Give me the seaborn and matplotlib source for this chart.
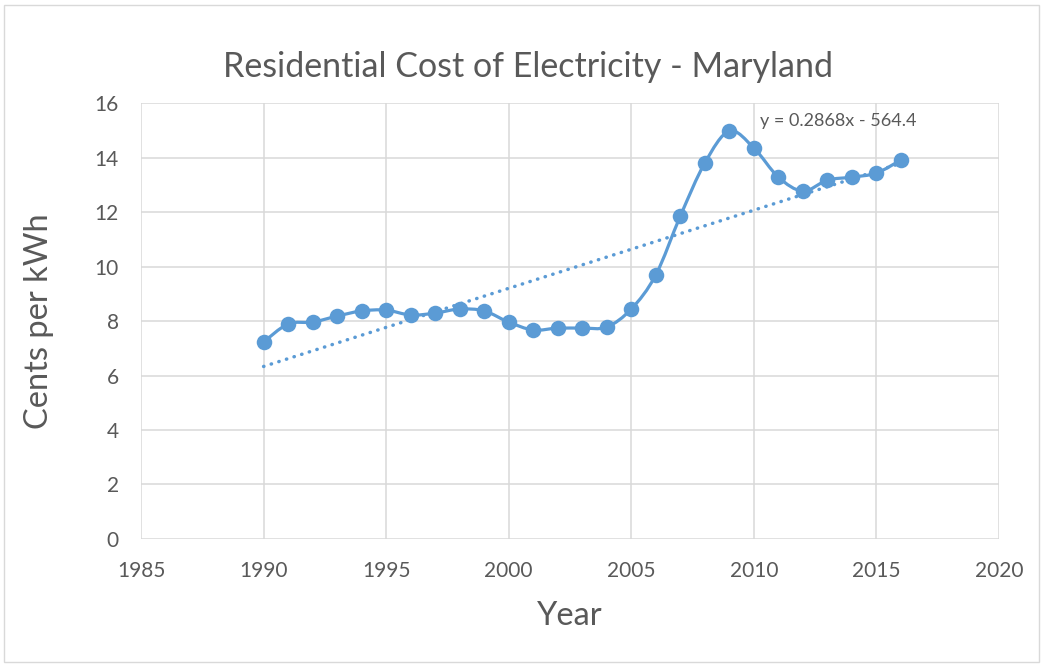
import numpy as np
import seaborn as sns
import matplotlib.pyplot as plt
from matplotlib.path import Path
from matplotlib.patches import PathPatch, Rectangle

years = [1990, 1991, 1992, 1993, 1994, 1995, 1996, 1997, 1998, 1999,
         2000, 2001, 2002, 2003, 2004, 2005, 2006, 2007, 2008, 2009,
         2010, 2011, 2012, 2013, 2014, 2015, 2016]
cents = [7.23, 7.89, 7.96, 8.18, 8.37, 8.40, 8.22, 8.29, 8.44, 8.37,
         7.96, 7.67, 7.74, 7.74, 7.78, 8.44, 9.69, 11.85, 13.80, 14.97,
         14.35, 13.28, 12.77, 13.17, 13.28, 13.43, 13.91]
trend_slope = 0.2868
trend_icept = -564.4
trend_label = "y = 0.2868x - 564.4"
x_ticks = [1985, 1990, 1995, 2000, 2005, 2010, 2015, 2020]
y_ticks = [0, 2, 4, 6, 8, 10, 12, 14, 16]

blue = "#5B9BD5"
grey_txt = "#595959"
grid_c = "#D9D9D9"

sns.set_theme(style="white")
plt.rcParams['font.family'] = ['Lato', 'DejaVu Sans']

fig = plt.figure(figsize=(10.43, 6.66), dpi=100)
ax = fig.add_axes([0.1352, 0.1907, 0.8226, 0.6546])

# excel-like smoothed line: bezier segments through the points
pts = np.column_stack([years, cents]).astype(float)
verts = [pts[0]]
codes = [Path.MOVETO]
for i in range(len(pts) - 1):
    p0 = pts[i - 1] if i > 0 else pts[i]
    p1 = pts[i]
    p2 = pts[i + 1]
    p3 = pts[i + 2] if i + 2 < len(pts) else pts[i + 1]
    verts += [p1 + (p2 - p0) / 6, p2 - (p3 - p1) / 6, p2]
    codes += [Path.CURVE4] * 3
ax.add_patch(PathPatch(Path(verts, codes), fill=False, edgecolor=blue,
                       lw=2.3, capstyle="round", joinstyle="round", zorder=3))

sns.scatterplot(x=years, y=cents, color=blue, s=125, edgecolor=blue,
                linewidth=0, ax=ax, zorder=4)

tx = np.array([years[0], years[-1]])
sns.lineplot(x=tx, y=trend_slope * tx + trend_icept, color=blue, lw=2.5,
             ax=ax, zorder=2, dashes=False)
ax.lines[-1].set_linestyle((0, (0.1, 2.2)))
ax.lines[-1].set_dash_capstyle("round")

ax.text(2010.25, 15.35, trend_label, fontsize=13, color=grey_txt,
        ha="left", va="center", zorder=5)

ax.set_xlim(1985, 2020)
ax.set_ylim(0, 16)
ax.set_xticks(x_ticks)
ax.set_yticks(y_ticks)
ax.grid(True, color=grid_c, lw=1.1)
ax.set_axisbelow(True)
for s in ax.spines.values():
    s.set_visible(False)
ax.tick_params(axis="both", length=0, labelsize=15, colors=grey_txt)
ax.tick_params(axis="x", pad=16)
ax.tick_params(axis="y", pad=16)

ax.set_title("Residential Cost of Electricity - Maryland", fontsize=24.5,
             color=grey_txt, pad=19, x=0.451)
ax.set_xlabel("Year", fontsize=23.5, color=grey_txt, labelpad=14)
ax.set_ylabel("Cents per kWh", fontsize=23.5, color=grey_txt, labelpad=29)

fig.patches.append(Rectangle((0.004, 0.006), 0.992, 0.986,
                             transform=fig.transFigure, fill=False,
                             edgecolor="#D9D9D9", lw=1))

fig.savefig("out.png", dpi=100)
